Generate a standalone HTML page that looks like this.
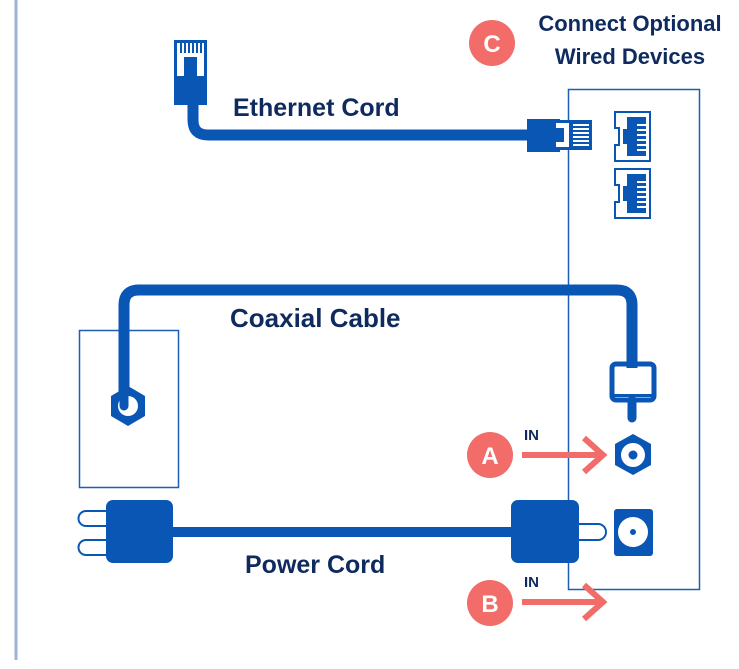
<!DOCTYPE html>
<html><head><meta charset="utf-8"><style>
html,body{margin:0;padding:0;background:#fff;}
svg{display:block}
text{font-family:"Liberation Sans",sans-serif;font-weight:bold;fill:#0f2a5e}
</style></head><body>
<svg width="739" height="669" viewBox="0 0 739 669" xmlns="http://www.w3.org/2000/svg">
<line x1="16" y1="0" x2="16" y2="660" stroke="#9fb3d6" stroke-width="3"/>
<rect x="568.5" y="89.5" width="131" height="500" fill="none" stroke="#1d5fb5" stroke-width="1.5"/>
<rect x="79.5" y="330.5" width="99" height="157" fill="none" stroke="#1d5fb5" stroke-width="1.5"/>
<path d="M193 100 V120 Q193 135 208 135 H530" fill="none" stroke="#0a56b4" stroke-width="11"/>
<rect x="174" y="40" width="33" height="65" fill="#0a56b4"/>
<rect x="177" y="43" width="27" height="14" fill="#fff"/>
<g fill="#0a56b4"><rect x="180" y="43" width="2" height="10"/><rect x="184" y="43" width="2" height="10"/><rect x="188" y="43" width="2" height="10"/><rect x="192" y="43" width="2" height="10"/><rect x="196" y="43" width="2" height="10"/><rect x="200" y="43" width="2" height="10"/></g>
<rect x="177" y="57" width="7" height="19" fill="#fff"/><rect x="197" y="57" width="7" height="19" fill="#fff"/>
<rect x="527" y="119" width="33" height="33" fill="#0a56b4"/>
<rect x="556" y="120" width="36" height="30" fill="#0a56b4"/>
<rect x="556" y="123" width="13" height="24" fill="#fff"/>
<rect x="556" y="128" width="8" height="14" fill="#0a56b4"/>
<g fill="#fff"><rect x="573" y="124" width="16" height="2"/><rect x="573" y="128" width="16" height="2"/><rect x="573" y="132" width="16" height="2"/><rect x="573" y="136" width="16" height="2"/><rect x="573" y="140" width="16" height="2"/><rect x="573" y="144" width="16" height="2"/></g>
<g id="p">
<path d="M615 112 H650 V161 H615 V145 H619 V128 H615 Z" fill="none" stroke="#0a56b4" stroke-width="2"/>
<rect x="623" y="117" width="23" height="39" fill="#0a56b4"/>
<rect x="623" y="117" width="4" height="12" fill="#fff"/><rect x="623" y="144" width="4" height="12" fill="#fff"/>
<g fill="#fff"><rect x="637" y="124" width="9" height="2"/><rect x="637" y="129" width="9" height="2"/><rect x="637" y="134" width="9" height="2"/><rect x="637" y="139" width="9" height="2"/><rect x="637" y="144" width="9" height="2"/><rect x="637" y="149" width="9" height="2"/></g>
</g>
<use href="#p" transform="translate(0,57)"/>
<path d="M124 400 V305 Q124 290 139 290 H617 Q632 290 632 305 V368" fill="none" stroke="#0a56b4" stroke-width="11"/>
<polygon points="128,386 145,396 145,416 128,426 111,416 111,396" fill="#0a56b4"/>
<circle cx="128" cy="406" r="10" fill="#fff"/>
<path d="M124 396 V406" stroke="#0a56b4" stroke-width="9" stroke-linecap="round"/>
<rect x="612" y="364" width="42" height="36" rx="4" fill="none" stroke="#0a56b4" stroke-width="5"/>
<rect x="610" y="394" width="46" height="3" fill="#0a56b4"/>
<path d="M632 400 V418" stroke="#0a56b4" stroke-width="9" stroke-linecap="round"/>
<polygon points="633,434 651,444 651,465 633,475 615,465 615,444" fill="#0a56b4"/>
<circle cx="633" cy="455" r="12" fill="#fff"/><circle cx="633" cy="455" r="4.5" fill="#0a56b4"/>
<rect x="614" y="509" width="39" height="47" rx="3" fill="#0a56b4"/>
<circle cx="633" cy="532" r="15" fill="#fff"/><circle cx="633" cy="532" r="3" fill="#0a56b4"/>
<rect x="150" y="527" width="380" height="10" fill="#0a56b4"/>
<path d="M106 511 H86 A7.5 7.5 0 0 0 86 526 H106" fill="#fff" stroke="#0a56b4" stroke-width="2"/>
<path d="M106 540 H86 A7.5 7.5 0 0 0 86 555 H106" fill="#fff" stroke="#0a56b4" stroke-width="2"/>
<rect x="106" y="500" width="67" height="63" rx="7" fill="#0a56b4"/>
<path d="M578 524 H598 A8 8 0 0 1 598 540 H578" fill="#fff" stroke="#0a56b4" stroke-width="2"/>
<rect x="511" y="500" width="68" height="63" rx="7" fill="#0a56b4"/>
<g stroke="#f26c6a" stroke-width="6" fill="none">
<line x1="522" y1="455" x2="600" y2="455"/><polyline points="584,438 603,455 584,472"/>
<line x1="522" y1="602" x2="600" y2="602"/><polyline points="584,585 603,602 584,619"/>
</g>
<circle cx="490" cy="455" r="23" fill="#f26c6a"/>
<circle cx="490" cy="603" r="23" fill="#f26c6a"/>
<circle cx="492" cy="43" r="23" fill="#f26c6a"/>
<text x="490" y="464" font-size="24" text-anchor="middle" style="fill:#fff">A</text>
<text x="490" y="612" font-size="24" text-anchor="middle" style="fill:#fff">B</text>
<text x="492" y="52" font-size="24" text-anchor="middle" style="fill:#fff">C</text>
<text x="524" y="440" font-size="15">IN</text>
<text x="524" y="587" font-size="15">IN</text>
<text x="233" y="116" font-size="25">Ethernet Cord</text>
<text x="230" y="327" font-size="26">Coaxial Cable</text>
<text x="245" y="573" font-size="25">Power Cord</text>
<text x="630" y="31" font-size="22" text-anchor="middle">Connect Optional</text>
<text x="630" y="64" font-size="22" text-anchor="middle">Wired Devices</text>
</svg>
</body></html>
